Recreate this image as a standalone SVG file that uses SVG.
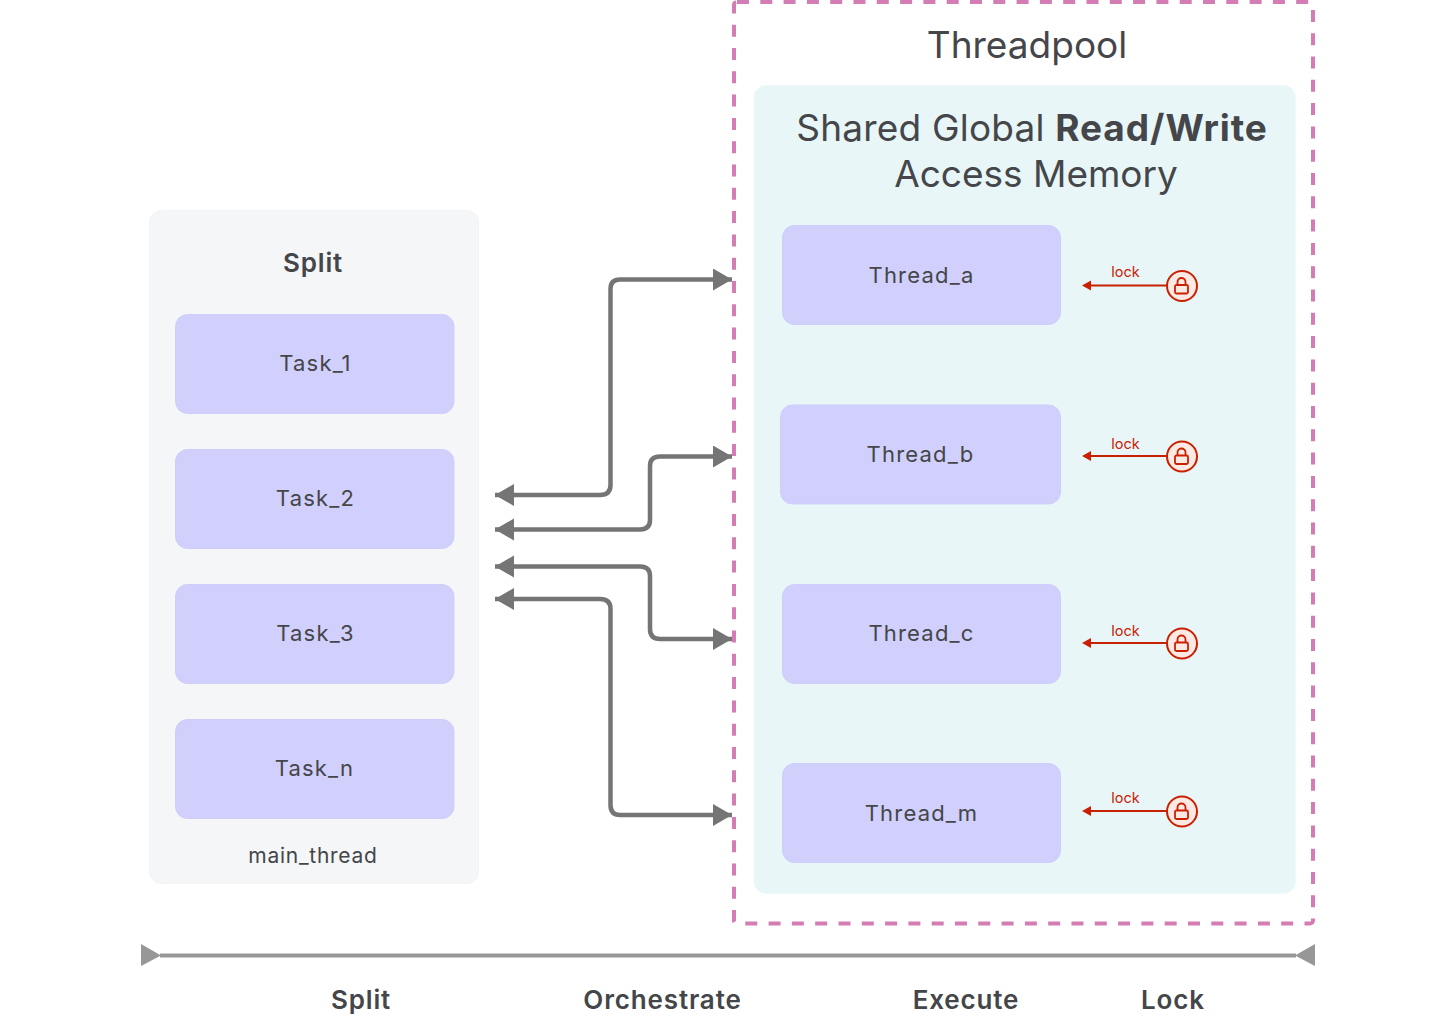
<svg xmlns="http://www.w3.org/2000/svg" width="1456" height="1017" viewBox="0 0 1456 1017">
<style>
text{font-family:Inter,"Noto Sans",sans-serif;fill:#444649;text-anchor:middle}
.box{fill:#d1cffc;stroke:#cfcdfb;stroke-width:1}
.lbl{font-size:22px;letter-spacing:1.200px}
.step{font-size:26px;font-weight:600;letter-spacing:.85px}
.conn{fill:none;stroke:#757575;stroke-width:4.500}
.lockline{stroke:#c92100;stroke-width:2;fill:none}
.lockc{fill:#fde9e4;stroke:#c92100;stroke-width:2}
.locki{fill:none;stroke:#c92100;stroke-width:1.800}
.locktxt{font-size:14.500px;fill:#c92100}
</style>
<defs>
<marker id="ah" markerUnits="userSpaceOnUse" markerWidth="20" markerHeight="24" refX="19" refY="11" orient="auto-start-reverse"><path d="M0 0L19 11L0 22Z" fill="#757575"/></marker>
<g id="lk">
<path class="lockline" d="M1090 0H1167"/><path d="M1082 0L1091-5V5Z" fill="#c92100"/>
<circle class="lockc" cx="1182" cy="0.500" r="15"/>
<rect class="locki" x="1175" y="-0.500" width="13" height="8.500" rx="1.500"/>
<path class="locki" d="M1177.500-0.500V-3.500A4 4 0 0 1 1185.500-3.500V-0.500"/>
</g>
</defs>
<g id="main_thread">
<rect x="149.500" y="210.500" width="329" height="673" rx="12" fill="#f5f6f8" stroke="#f2f3f5"/>
<text x="313" y="272" font-size="26" font-weight="600" letter-spacing=".85">Split</text>
<text x="313" y="863" font-size="21" letter-spacing=".75">main_thread</text>
</g>
<g id="task_1"><rect class="box" x="175.500" y="314.500" width="278.500" height="99" rx="12"/><text class="lbl" x="315.500" y="371">Task_1</text></g>
<g id="task_2"><rect class="box" x="175.500" y="449.500" width="278.500" height="99" rx="12"/><text class="lbl" x="315.500" y="506">Task_2</text></g>
<g id="task_3"><rect class="box" x="175.500" y="584.500" width="278.500" height="99" rx="12"/><text class="lbl" x="315.500" y="641">Task_3</text></g>
<g id="task_n"><rect class="box" x="175.500" y="719.500" width="278.500" height="99" rx="12"/><text class="lbl" x="314.500" y="776">Task_n</text></g>
<g id="threadpool">
<rect x="734" y="2" width="579" height="921.500" rx="3" fill="none" stroke="#d47db4" stroke-width="4" stroke-dasharray="12 11.300"/>
<text x="1027" y="58" font-size="37">Threadpool</text>
</g>
<g id="shared_memory">
<rect x="754" y="85.500" width="541.500" height="808" rx="12" fill="#e8f6f8" stroke="#eef9fa"/>
<text x="1032" y="141" font-size="37" letter-spacing=".2">Shared Global <tspan font-weight="700" letter-spacing=".9">Read/Write</tspan></text>
<text x="1036" y="187" font-size="37">Access Memory</text>
</g>
<g id="thread_a"><rect class="box" x="782.500" y="225.500" width="278" height="99" rx="12"/><text class="lbl" x="921.500" y="283">Thread_a</text></g>
<g id="thread_b"><rect class="box" x="780.500" y="405" width="280" height="99" rx="12"/><text class="lbl" x="920.500" y="462">Thread_b</text></g>
<g id="thread_c"><rect class="box" x="782.500" y="584.500" width="278" height="99" rx="12"/><text class="lbl" x="921.500" y="641">Thread_c</text></g>
<g id="thread_m"><rect class="box" x="782.500" y="763.500" width="278" height="99" rx="12"/><text class="lbl" x="921.500" y="821">Thread_m</text></g>
<g id="connectors">
<path class="conn" marker-start="url(#ah)" marker-end="url(#ah)" d="M495 495H600Q610.500 495 610.500 485V289Q610.500 279.500 620 279.500H732"/>
<path class="conn" marker-start="url(#ah)" marker-end="url(#ah)" d="M495 529.500H640Q650 529.500 650 520V466Q650 456.500 660 456.500H732"/>
<path class="conn" marker-start="url(#ah)" marker-end="url(#ah)" d="M495 566.500H640Q650 566.500 650 576V629Q650 639 660 639H732"/>
<path class="conn" marker-start="url(#ah)" marker-end="url(#ah)" d="M495 599H600Q610.500 599 610.500 609V805Q610.500 815 620 815H732"/>
<path d="M160 955.500H1296" stroke="#979797" stroke-width="4" fill="none"/>
<path d="M141 944L161 955.500L141 966Z" fill="#979797"/>
<path d="M1315 944L1295 955.500L1315 966Z" fill="#979797"/>
</g>
<g id="lock_a"><use href="#lk" y="285.500"/><text class="locktxt" x="1125.500" y="277">lock</text></g>
<g id="lock_b"><use href="#lk" y="456"/><text class="locktxt" x="1125.500" y="449">lock</text></g>
<g id="lock_c"><use href="#lk" y="643"/><text class="locktxt" x="1125.500" y="636">lock</text></g>
<g id="lock_m"><use href="#lk" y="811"/><text class="locktxt" x="1125.500" y="803">lock</text></g>
<g id="steps">
<text class="step" x="361" y="1009">Split</text>
<text class="step" x="662.500" y="1009">Orchestrate</text>
<text class="step" x="966" y="1009">Execute</text>
<text class="step" x="1173" y="1009">Lock</text>
</g>
</svg>
